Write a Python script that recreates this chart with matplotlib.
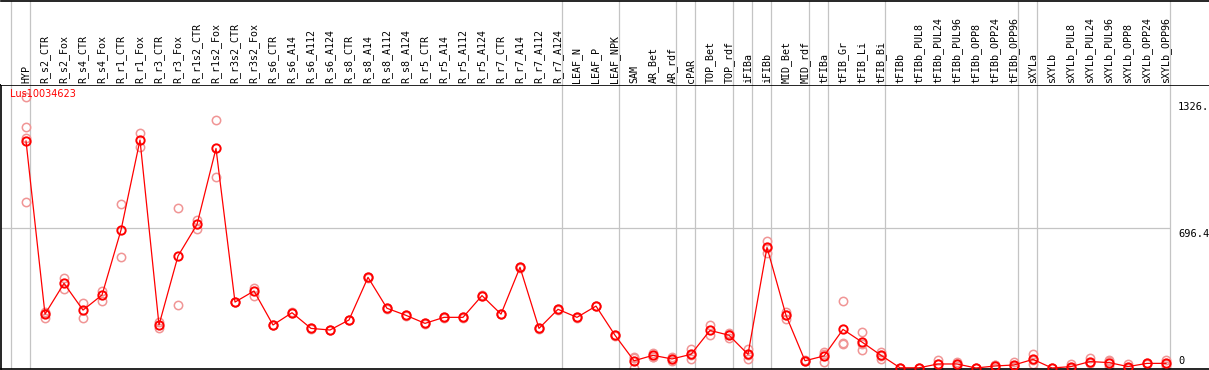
import numpy as np
import matplotlib.pyplot as plt

gene = "Lus10034623"

samples = ["HYP", "R_s2_CTR", "R_s2_Fox", "R_s4_CTR", "R_s4_Fox", "R_r1_CTR", "R_r1_Fox",
           "R_r3_CTR", "R_r3_Fox", "R_r1s2_CTR", "R_r1s2_Fox", "R_r3s2_CTR", "R_r3s2_Fox",
           "R_s6_CTR", "R_s6_A14", "R_s6_A112", "R_s6_A124", "R_s8_CTR", "R_s8_A14",
           "R_s8_A112", "R_s8_A124", "R_r5_CTR", "R_r5_A14", "R_r5_A112", "R_r5_A124",
           "R_r7_CTR", "R_r7_A14", "R_r7_A112", "R_r7_A124", "LEAF_N", "LEAF_P", "LEAF_NPK",
           "SAM", "AR_Bet", "AR_rdf", "cPAR", "TOP_Bet", "TOP_rdf", "iFIBa", "iFIBb",
           "MID_Bet", "MID_rdf", "tFIBa", "tFIB_Gr", "tFIB_Li", "tFIB_Bi", "tFIBb",
           "tFIBb_PUL8", "tFIBb_PUL24", "tFIBb_PUL96", "tFIBb_OPP8", "tFIBb_OPP24",
           "tFIBb_OPP96", "sXYLa", "sXYLb", "sXYLb_PUL8", "sXYLb_PUL24", "sXYLb_PUL96",
           "sXYLb_OPP8", "sXYLb_OPP24", "sXYLb_OPP96"]

means = [1129, 268, 421, 288, 363, 686, 1134, 214, 557, 714, 1092, 328, 383, 214, 275,
         197, 189, 239, 451, 297, 262, 222, 252, 252, 360, 268, 501, 197, 292, 252, 308, 163,
         36, 63, 45, 68, 187, 163, 68, 600, 262, 36, 60, 192, 129, 63, 1,
         1, 20, 20, 0, 10, 15, 43, 0, 7, 32, 27, 7, 23, 23]

replicates = [[1346, 1200, 1142, 825], [280, 250, 275], [449, 393], [322, 250], [383, 335],
              [814, 550], [1167, 1100], [230, 197], [794, 312], [736, 693], [1232, 948],
              [330, 326], [399, 360], [216, 212], [277, 272], [199, 195], [191, 187],
              [241, 237], [453, 449], [299, 295], [264, 260], [224, 220], [254, 250],
              [254, 250], [362, 358], [270, 267], [503, 499], [199, 195], [294, 290],
              [254, 250], [310, 306], [165, 161],
              [56, 52, 0], [76, 56, 57], [56, 36, 43], [94, 46, 64], [212, 163],
              [172, 148, 169], [93, 45, 66], [632, 570, 598], [280, 242, 264], [38, 34],
              [78, 32, 70], [332, 123, 121], [179, 88, 120], [81, 46, 62], [0, 2],
              [0, 2], [40, 0, 20], [30, 10, 20], [0, 0], [0, 15, 15], [28, 5, 12],
              [68, 20, 41], [0, 0], [20, 0, 1], [48, 25, 23], [40, 8, 33], [20, 0, 1],
              [25, 21], [40, 8, 21]]

group_ends = [-1, 0, 28, 31, 34, 35, 37, 38, 39, 41, 42, 45, 52, 53, 60]
y_ticks = [0, 696.4, 1326]
y_tick_labels = ["0", "696.4", "1326."]

W, H = 1209, 370
fig = plt.figure(figsize=(W / 100, H / 100), dpi=100)

# x: category i sits at pixel 26 + 19*i
x_lo = (1 - 26) / 19
x_hi = (W - 26) / 19
px = 140 / 696.4  # pixels per unit

ax = fig.add_axes([1 / W, 1 / H, (W - 1) / W, 284 / H])
hd = fig.add_axes([1 / W, (H - 85) / H, (W - 1) / W, 84.5 / H])

grey = "#c4c4c4"
for a in (ax, hd):
    a.set_xlim(x_lo, x_hi)
    a.set_xticks([])
    a.set_yticks([])
    for g in group_ends:
        a.axvline(g + 0.23, color=grey, lw=0.9, zorder=0)
    a.spines["right"].set_visible(False)

hd.set_ylim(0, 1)
hd.spines["left"].set_visible(False)
hd.spines["bottom"].set_visible(False)
hd.spines["top"].set_linewidth(1.2)

ax.set_ylim(-1 / px, 283 / px)
ax.spines["left"].set_linewidth(1.2)
ax.spines["bottom"].set_linewidth(1.2)
ax.spines["top"].set_linewidth(1.2)

x = np.arange(len(samples))
ax.hlines(696.4, x_lo, group_ends[-1] + 0.23, color=grey, lw=0.9, zorder=0)

for i, reps in enumerate(replicates):
    ax.plot([i] * len(reps), reps, "o", mfc="none", mec="#f09595", ms=6, mew=1.1,
            zorder=2)

ax.plot(x, means, "-", color="red", lw=0.9, zorder=3)
ax.plot(x, means, "o", mfc="none", mec="red", ms=6, mew=1.4, zorder=4)

ax.text(-0.85, 1390, gene, color="red", fontsize=7, family="DejaVu Sans",
        ha="left", va="top")

for t, lab in zip(y_ticks, y_tick_labels):
    if t == 0:
        ax.text(60.63, t + 8, lab, fontsize=7.5, family="DejaVu Sans Mono",
                ha="left", va="bottom")
    else:
        ax.text(60.63, t - 4, lab, fontsize=7.5, family="DejaVu Sans Mono",
                ha="left", va="top")

for i, s in enumerate(samples):
    hd.text(i, 0.025, s, rotation=90, ha="center", va="bottom", fontsize=7.2,
            family="DejaVu Sans Mono")

fig.savefig("out.png", dpi=100)
